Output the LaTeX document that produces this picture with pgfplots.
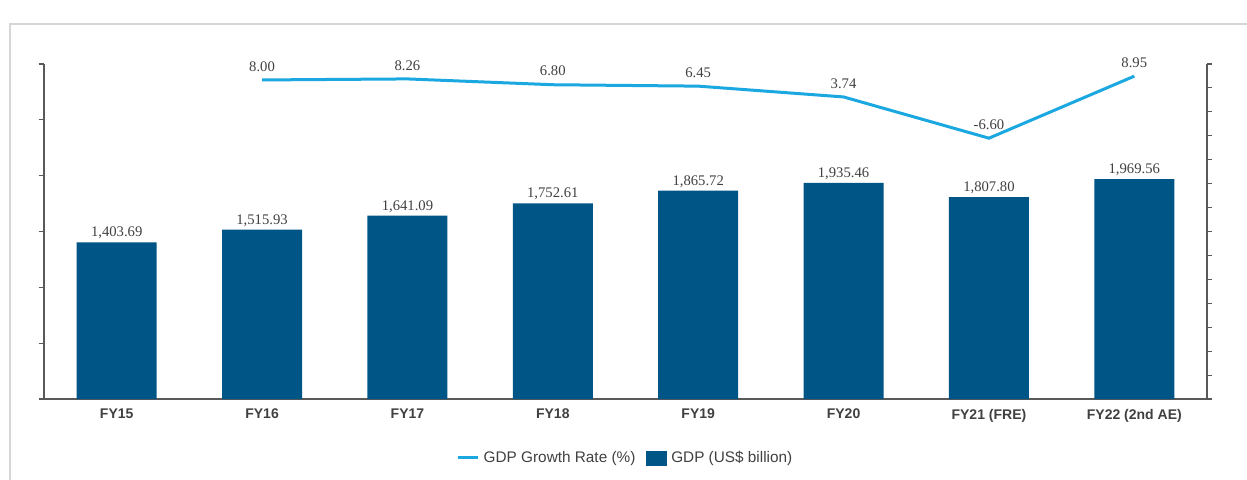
\documentclass[border=0pt]{standalone}
\usepackage{fontspec}
\setmainfont{Liberation Serif}
\setsansfont{Liberation Sans}
\usepackage{pgfplots}
\usepackage{pgfplotstable}
\pgfplotsset{compat=1.18}

\definecolor{barblue}{RGB}{0,85,135}
\definecolor{lineblue}{RGB}{27,168,225}
\definecolor{axisgray}{RGB}{89,89,89}
\definecolor{framegray}{RGB}{214,214,214}
\definecolor{labelgray}{RGB}{64,64,64}

% GDP in US$ billion
\pgfplotstableread{
x  y        label
0  1403.69  {1,403.69}
1  1515.93  {1,515.93}
2  1641.09  {1,641.09}
3  1752.61  {1,752.61}
4  1865.72  {1,865.72}
5  1935.46  {1,935.46}
6  1807.80  {1,807.80}
7  1969.56  {1,969.56}
}\gdptable

% GDP growth rate in %
\pgfplotstableread{
x  y      label
1   8.00  8.00
2   8.26  8.26
3   6.80  6.80
4   6.45  6.45
5   3.74  3.74
6  -6.60  -6.60
7   8.95  8.95
}\growthtable

\begin{document}
\begin{tikzpicture}
\path[use as bounding box] (0,0) rectangle (935.25pt,359.25pt);
\draw[framegray, line width=1.5pt] (7.5pt,-5pt) -- (7.5pt,341.25pt) -- (945pt,341.25pt);

\pgfplotsset{
  base/.style={
    at={(33pt,60pt)}, anchor=south west,
    scale only axis, width=872.25pt, height=251.25pt,
    xmin=-0.5, xmax=7.5,
    axis line style={axisgray, line width=0.8pt},
    tick style={axisgray, line width=0.8pt},
    major tick length=4pt, tick align=outside,
    yticklabels={},
  },
}

\begin{axis}[
  base,
  ymin=0, ymax=3000,
  ytick={0,500,...,3000},
  axis y line*=left, axis x line*=bottom,
  xtick=data,
  xticklabels={FY15,FY16,FY17,FY18,FY19,FY20,FY21 (FRE),FY22 (2nd AE)},
  x tick style={draw=none},
  xticklabel style={font=\sffamily\bfseries\fontsize{10.5pt}{12pt}\selectfont, text=labelgray},
  ybar, bar width=60pt,
  point meta=explicit symbolic,
  nodes near coords,
  nodes near coords style={font=\fontsize{11pt}{13pt}\selectfont, text=labelgray, yshift=-1pt},
]
\addplot[fill=barblue, draw=none] table[x=x, y=y, meta=label] {\gdptable};
\end{axis}

\begin{axis}[
  base,
  ymin=-72, ymax=12,
  ytick={-72,-66,...,12},
  axis y line*=right, axis x line=none,
  point meta=explicit symbolic,
  nodes near coords,
  nodes near coords style={font=\fontsize{11pt}{13pt}\selectfont, text=labelgray, yshift=2pt},
  legend columns=2,
  legend style={at={(0.5,-0.176)}, anchor=center, draw=none, fill=none,
    font=\sffamily\fontsize{11.5pt}{13pt}\selectfont, text=labelgray,
    /tikz/every odd column/.append style={column sep=1.5pt},
    /tikz/every even column/.append style={column sep=6pt}},
]
\addplot[lineblue, line width=2.25pt, mark=none,
  legend image code/.code={\draw[lineblue, line width=2.25pt] (0pt,0pt) -- (15pt,0pt);}]
  table[x=x, y=y, meta=label] {\growthtable};
\addlegendentry{GDP Growth Rate (\%)}
\addlegendimage{legend image code/.code={\fill[barblue] (0pt,-5.25pt) rectangle (15pt,5.25pt);}}
\addlegendentry{GDP (US\$ billion)}
\end{axis}
\end{tikzpicture}
\end{document}
